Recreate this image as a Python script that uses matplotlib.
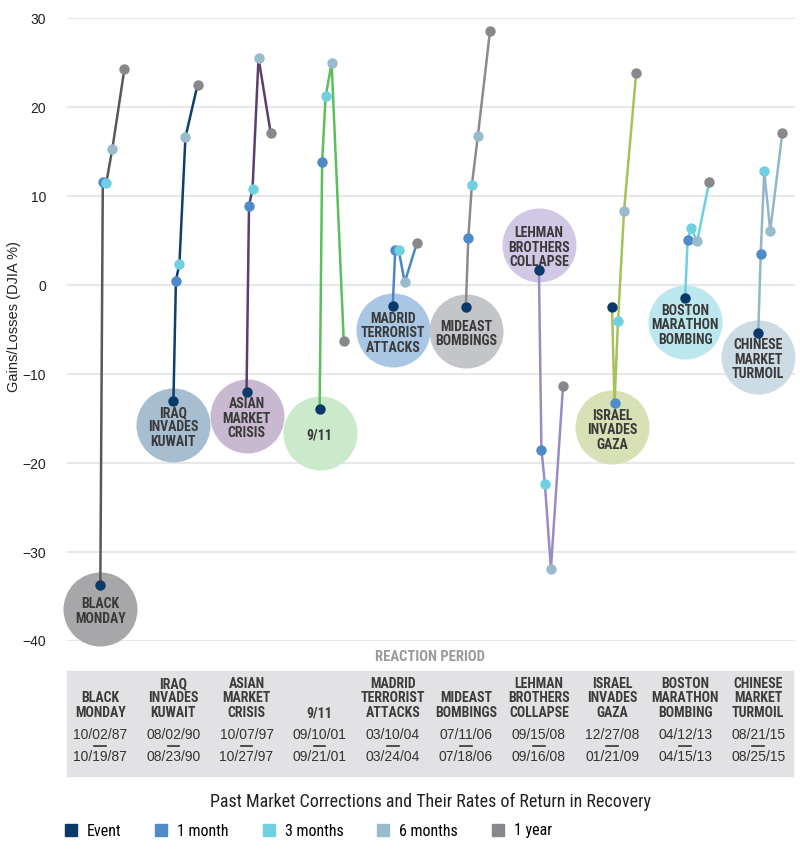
import matplotlib
matplotlib.use('Agg')
import matplotlib.pyplot as plt
from matplotlib.transforms import blended_transform_factory
from matplotlib.patches import Rectangle
from matplotlib.lines import Line2D

# ---- data ----
events = ['BLACK\nMONDAY', 'IRAQ\nINVADES\nKUWAIT', 'ASIAN\nMARKET\nCRISIS', '9/11',
          'MADRID\nTERRORIST\nATTACKS', 'MIDEAST\nBOMBINGS', 'LEHMAN\nBROTHERS\nCOLLAPSE',
          'ISRAEL\nINVADES\nGAZA', 'BOSTON\nMARATHON\nBOMBING', 'CHINESE\nMARKET\nTURMOIL']
start_dates = ['10/02/87', '08/02/90', '10/07/97', '09/10/01', '03/10/04',
               '07/11/06', '09/15/08', '12/27/08', '04/12/13', '08/21/15']
end_dates = ['10/19/87', '08/23/90', '10/27/97', '09/21/01', '03/24/04',
             '07/18/06', '09/16/08', '01/21/09', '04/15/13', '08/25/15']
periods = ['Event', '1 month', '3 months', '6 months', '1 year']

# gains/losses (DJIA %) for Event, 1 month, 3 months, 6 months, 1 year
black_monday = [-33.7, 11.6, 11.5, 15.3, 24.3]
iraq_kuwait = [-13.0, 0.5, 2.4, 16.6, 22.5]
asian_crisis = [-12.0, 8.9, 10.8, 25.5, 17.1]
sept_11 = [-13.9, 13.8, 21.2, 24.9, -6.3]
madrid = [-2.4, 3.9, 3.9, 0.3, 4.7]
mideast = [-2.5, 5.3, 11.2, 16.7, 28.5]
lehman = [1.7, -18.5, -22.4, -31.9, -11.3]
israel_gaza = [-2.5, -13.3, -4.0, 8.3, 23.8]
boston = [-1.5, 5.1, 6.4, 4.9, 11.6]
chinese = [-5.4, 3.5, 12.8, 6.1, 17.1]
series = [black_monday, iraq_kuwait, asian_crisis, sept_11, madrid,
          mideast, lehman, israel_gaza, boston, chinese]
label_above = [False, False, False, False, False, False, True, False, False, False]

# ---- styles ----
point_colors = ['#0b3a6a', '#4f8ac9', '#6fd0e0', '#99bccc', '#87888c']
line_colors = ['#57585a', '#0f3f6e', '#5b3f6f', '#5cbf5c', '#4b87c6',
               '#8a8b8f', '#9a8bc7', '#a6c25a', '#6dcfdf', '#94b6c9']
bubble_colors = ['#a7a7a9', '#a7bdd0', '#c8b9d1', '#cbeacb', '#a9c7e5',
                 '#c4c5c8', '#d0c8e4', '#d8e1b5', '#bde7ee', '#cddbe5']
offsets = [0, 0.034, 0.082, 0.164, 0.33]

regular = ['Liberation Sans', 'DejaVu Sans']
narrow = ['Roboto Condensed', 'Archivo Narrow', 'PT Sans Narrow', 'Liberation Sans', 'DejaVu Sans']
plt.rcParams['font.family'] = regular

fig = plt.figure(figsize=(8, 8.52), dpi=100)
ax = fig.add_axes([67 / 800, 1 - 641 / 852, 728 / 800, 623 / 852])
ax.set_ylim(-40, 30)
ax.set_xlim(-0.456, 9.503)
for s in ax.spines.values():
    s.set_visible(False)
ax.set_xticks([])
ax.set_yticks(range(-40, 31, 10))
ax.tick_params(axis='y', length=0, pad=15, labelsize=10, labelcolor='#222222')
ax.grid(axis='y', color='#e8e8e8', linewidth=1.5)
ax.set_axisbelow(True)
fig.text(14 / 800, 1 - 317 / 852, 'Gains/Losses (DJIA %)', rotation=90, ha='center', va='center',
         fontsize=10.5, color='#222222')

for i, vals in enumerate(series):
    xs = [i + o for o in offsets]
    # bubble with the event name
    if label_above[i]:
        cy = vals[0] + 2.8
    else:
        cy = min(vals[:2]) - 2.7
    ax.scatter([i], [cy], s=2840, color=bubble_colors[i], zorder=1, clip_on=False, linewidths=0)
    ax.text(i, cy - 0.3, events[i], ha='center', va='center', fontsize=10, fontweight='bold',
            family=narrow, color='#3a3a3a', linespacing=1.05, zorder=2)
    ax.plot(xs, vals, color=line_colors[i], linewidth=1.8, zorder=3)
    for j in range(len(vals)):
        ax.plot(xs[j], vals[j], 'o', color=point_colors[j], markersize=7.5,
                markeredgewidth=0, zorder=4, clip_on=False)

# ---- reaction period table ----
trans = blended_transform_factory(ax.transData, fig.transFigure)
fig.text(430 / 800, 1 - 657 / 852, 'REACTION PERIOD', ha='center', va='center',
         fontsize=10.5, fontweight='bold', family=narrow, color='#9a9a9a')
fig.patches.append(Rectangle((67 / 800, 1 - 776 / 852), 726 / 800, 105 / 852,
                             transform=fig.transFigure, color='#e2e2e4', zorder=0))
for i in range(len(events)):
    fig.text(i, 1 - 720 / 852, events[i], transform=trans, ha='center', va='bottom',
             fontsize=10, fontweight='bold', family=narrow, color='#3c3c3c', linespacing=1.05)
    fig.text(i, 1 - 735 / 852, start_dates[i], transform=trans, ha='center', va='center',
             fontsize=10, color='#333333')
    fig.lines.append(Line2D([i - 0.08, i + 0.08], [1 - 745.5 / 852] * 2, transform=trans,
                            color='#333333', linewidth=1.2))
    fig.text(i, 1 - 757 / 852, end_dates[i], transform=trans, ha='center', va='center',
             fontsize=10, color='#333333')

fig.text(431 / 800, 1 - 802 / 852, 'Past Market Corrections and Their Rates of Return in Recovery',
         ha='center', va='center', fontsize=13, family=narrow, color='#222222')

handles = [Line2D([], [], marker='s', linestyle='none', color=c, markersize=8) for c in point_colors]
fig.legend(handles, periods, ncol=5, loc='center left', bbox_to_anchor=(50 / 800, 1 - 831 / 852),
           frameon=False, handlelength=0.8, handletextpad=0.6, columnspacing=2.1,
           prop={'family': narrow, 'size': 11.5})

fig.savefig('out.png', dpi=100)
